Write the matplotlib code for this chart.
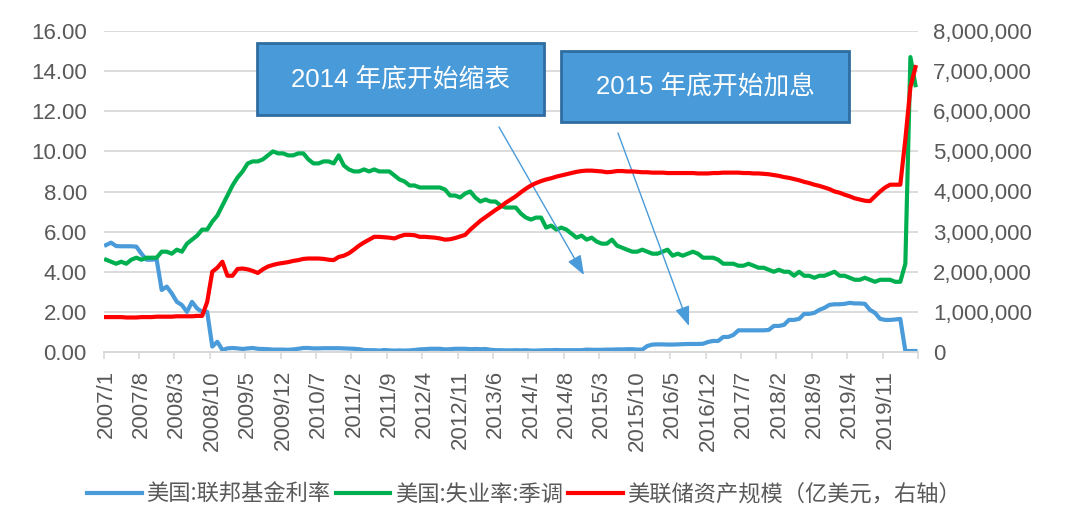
import matplotlib
matplotlib.use("Agg")
import matplotlib.pyplot as plt
from matplotlib.patches import Rectangle
from matplotlib.ticker import FuncFormatter, FixedLocator
import numpy as np

plt.rcParams['font.family'] = ['Liberation Sans', 'Noto Sans CJK SC']

# monthly categories 2007/1 .. 2020/5
months = [f"{2007 + k // 12}/{k % 12 + 1}" for k in range(161)]
tick_labels = months[::7]

# 美国:联邦基金利率 (%)
fed_rate = [
    5.33, 5.45, 5.28, 5.27, 5.27, 5.27, 5.25, 4.90, 4.60, 4.60, 4.62, 3.09,
    3.26, 2.92, 2.50, 2.34, 2.00, 2.50, 2.17, 2.00, 2.00, 0.27, 0.51, 0.10,
    0.18, 0.20, 0.18, 0.15, 0.18, 0.20, 0.16, 0.15, 0.14, 0.12, 0.12, 0.12,
    0.11, 0.13, 0.16, 0.20, 0.20, 0.18, 0.18, 0.19, 0.19, 0.19, 0.19, 0.18,
    0.17, 0.16, 0.14, 0.10, 0.09, 0.09, 0.07, 0.10, 0.08, 0.07, 0.08, 0.07,
    0.08, 0.10, 0.13, 0.14, 0.16, 0.16, 0.16, 0.13, 0.14, 0.16, 0.16, 0.16,
    0.14, 0.15, 0.14, 0.15, 0.11, 0.09, 0.09, 0.08, 0.08, 0.09, 0.08, 0.09,
    0.07, 0.07, 0.08, 0.09, 0.09, 0.10, 0.09, 0.09, 0.09, 0.09, 0.09, 0.12,
    0.11, 0.11, 0.11, 0.12, 0.12, 0.13, 0.13, 0.14, 0.14, 0.12, 0.12, 0.30,
    0.37, 0.38, 0.38, 0.37, 0.37, 0.38, 0.39, 0.40, 0.40, 0.40, 0.41, 0.50,
    0.55, 0.55, 0.75, 0.75, 0.85, 1.08, 1.08, 1.08, 1.08, 1.08, 1.08, 1.10,
    1.30, 1.30, 1.35, 1.60, 1.60, 1.65, 1.90, 1.90, 1.95, 2.10, 2.20, 2.35,
    2.38, 2.38, 2.40, 2.45, 2.42, 2.42, 2.40, 2.10, 1.95, 1.65, 1.60, 1.60,
    1.62, 1.65, 0.05, 0.05, 0.05,
]

# 美国:失业率:季调 (%)
unemployment = [
    4.6, 4.5, 4.4, 4.5, 4.4, 4.6, 4.7, 4.6, 4.7, 4.7, 4.7, 5.0,
    5.0, 4.9, 5.1, 5.0, 5.4, 5.6, 5.8, 6.1, 6.1, 6.5, 6.8, 7.3,
    7.8, 8.3, 8.7, 9.0, 9.4, 9.5, 9.5, 9.6, 9.8, 10.0, 9.9, 9.9,
    9.8, 9.8, 9.9, 9.9, 9.6, 9.4, 9.4, 9.5, 9.5, 9.4, 9.8, 9.3,
    9.1, 9.0, 9.0, 9.1, 9.0, 9.1, 9.0, 9.0, 9.0, 8.8, 8.6, 8.5,
    8.3, 8.3, 8.2, 8.2, 8.2, 8.2, 8.2, 8.1, 7.8, 7.8, 7.7, 7.9,
    8.0, 7.7, 7.5, 7.6, 7.5, 7.5, 7.3, 7.2, 7.2, 7.2, 6.9, 6.7,
    6.6, 6.7, 6.7, 6.2, 6.3, 6.1, 6.2, 6.1, 5.9, 5.7, 5.8, 5.6,
    5.7, 5.5, 5.4, 5.4, 5.6, 5.3, 5.2, 5.1, 5.0, 5.0, 5.1, 5.0,
    4.9, 4.9, 5.0, 5.1, 4.8, 4.9, 4.8, 4.9, 5.0, 4.9, 4.7, 4.7,
    4.7, 4.6, 4.4, 4.4, 4.4, 4.3, 4.3, 4.4, 4.3, 4.2, 4.2, 4.1,
    4.0, 4.1, 4.0, 4.0, 3.8, 4.0, 3.8, 3.8, 3.7, 3.8, 3.8, 3.9,
    4.0, 3.8, 3.8, 3.7, 3.6, 3.6, 3.7, 3.6, 3.5, 3.6, 3.6, 3.6,
    3.5, 3.5, 4.4, 14.7, 13.3,
]

# 美联储资产规模 (millions, right axis)
fed_assets_mn = [
    0.87, 0.87, 0.87, 0.87, 0.86, 0.86, 0.86, 0.87, 0.87, 0.87, 0.88, 0.88,
    0.88, 0.88, 0.89, 0.89, 0.89, 0.89, 0.90, 0.90, 1.25, 2.00, 2.10, 2.25,
    1.90, 1.90, 2.07, 2.08, 2.06, 2.02, 1.97, 2.06, 2.13, 2.17, 2.20, 2.22,
    2.24, 2.27, 2.29, 2.32, 2.33, 2.33, 2.33, 2.32, 2.30, 2.29, 2.37, 2.40,
    2.46, 2.55, 2.65, 2.73, 2.80, 2.87, 2.87, 2.86, 2.85, 2.83, 2.88, 2.92,
    2.92, 2.91, 2.87, 2.87, 2.86, 2.85, 2.83, 2.80, 2.81, 2.84, 2.88, 2.92,
    3.05, 3.16, 3.27, 3.36, 3.45, 3.54, 3.62, 3.72, 3.80, 3.88, 3.98, 4.07,
    4.15, 4.21, 4.26, 4.30, 4.33, 4.37, 4.40, 4.43, 4.46, 4.49, 4.51, 4.52,
    4.52, 4.51, 4.50, 4.48, 4.49, 4.51, 4.51, 4.50, 4.50, 4.49, 4.48, 4.48,
    4.47, 4.47, 4.47, 4.46, 4.46, 4.46, 4.46, 4.46, 4.46, 4.45, 4.45, 4.45,
    4.46, 4.46, 4.47, 4.47, 4.47, 4.47, 4.46, 4.46, 4.45, 4.45, 4.44, 4.43,
    4.41, 4.39, 4.36, 4.34, 4.31, 4.28, 4.24, 4.21, 4.17, 4.14, 4.10, 4.06,
    4.00, 3.97, 3.92, 3.88, 3.83, 3.80, 3.77, 3.76, 3.88, 4.00, 4.10, 4.17,
    4.17, 4.17, 5.30, 6.60, 7.10,
]

names = ['美国:联邦基金利率', '美国:失业率:季调', '美联储资产规模（亿美元，右轴）']
colors = ['#4a9bd9', '#00b050', '#ff0000']
notes = ['2014 年底开始缩表', '2015 年底开始加息']

W, H = 1080, 529
gray = '#595959'
grid = '#d9d9d9'

def fx(px):
    return px / W

def fy(py):
    return 1 - py / H

fig = plt.figure(figsize=(W / 100, H / 100), dpi=100)
ax = fig.add_axes([fx(103.5), fy(352), fx(918 - 103.5), (352 - 31) / H])
ax2 = ax.twinx()

x = np.arange(len(months))
l1, = ax.plot(x, fed_rate, color=colors[0], lw=3, solid_joinstyle='round')
l2, = ax.plot(x, unemployment, color=colors[1], lw=3, solid_joinstyle='round')
l3, = ax2.plot(x, np.array(fed_assets_mn) * 1e6, color=colors[2], lw=3,
               solid_joinstyle='round')

ax.set_xlim(-0.5, len(months) - 0.5)
ax.set_ylim(0, 16)
ax.set_yticks(np.arange(0, 17, 2))
ax.yaxis.set_major_formatter(FuncFormatter(lambda v, p: f"{v:.2f}"))
ax2.set_ylim(0, 8e6)
ax2.set_yticks(np.arange(0, 8e6 + 1, 1e6))
ax2.yaxis.set_major_formatter(FuncFormatter(lambda v, p: f"{v:,.0f}"))

ax.set_xticks(x[::7])
ax.set_xticklabels(tick_labels, rotation=90)
ax.xaxis.set_minor_locator(FixedLocator(np.arange(-0.5, len(months), 7)))

ax.tick_params(axis='x', which='major', length=0, pad=13, labelsize=16, labelcolor=gray)
ax.tick_params(axis='x', which='minor', length=5, width=1.2, color=grid)
ax.tick_params(axis='y', length=0, pad=12, labelsize=16, labelcolor=gray)
ax2.tick_params(axis='y', length=0, pad=11, labelsize=16, labelcolor=gray)

ax.yaxis.grid(True, color=grid, lw=1.3)
ax.set_axisbelow(True)
for a in (ax, ax2):
    for s in ('top', 'left', 'right'):
        a.spines[s].set_visible(False)
    a.spines['bottom'].set_color(grid)
    a.spines['bottom'].set_linewidth(1.3)

fig.legend([l1, l2, l3], names, loc='center', bbox_to_anchor=(fx(524), fy(494)),
           ncol=3, frameon=False, fontsize=16, labelcolor=gray,
           handlelength=2.45, handletextpad=0.2, columnspacing=0.25,
           prop={'family': ['Noto Sans CJK SC'], 'size': 16})

# annotation boxes
boxes = [(257, 43, 544, 115), (561, 51, 849, 122)]
for (x0, y0, x1, y1), note in zip(boxes, notes):
    fig.add_artist(Rectangle((fx(x0), fy(y1)), fx(x1 - x0), (y1 - y0) / H,
                             transform=fig.transFigure, facecolor='#489ad9',
                             edgecolor='#2f6c9f', lw=2))
    fig.text(fx((x0 + x1) / 2), fy((y0 + y1) / 2), note, ha='center', va='center',
             color='white', fontsize=18.5)

# arrows
arrows = [((499, 127), (584, 275)), ((618, 133), (689, 326))]
for (sx, sy), (ex, ey) in arrows:
    ax.annotate('', xy=(fx(ex), fy(ey)), xytext=(fx(sx), fy(sy)),
                xycoords='figure fraction', textcoords='figure fraction',
                annotation_clip=False,
                arrowprops=dict(arrowstyle='-|>,head_length=1.2,head_width=0.45',
                                color='#4a9bd9', lw=1, shrinkA=0, shrinkB=0,
                                mutation_scale=10))

fig.savefig('out.png', dpi=100)
